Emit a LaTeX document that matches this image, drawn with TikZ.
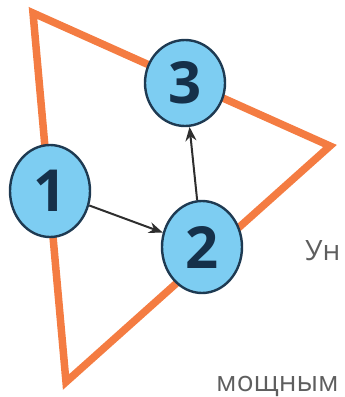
\documentclass[tikz,border=0pt]{standalone}
\usepackage{fontspec}
\usetikzlibrary{shapes.geometric,arrows.meta}
\newfontfamily\lblfont{Open Sans}
\definecolor{triorange}{HTML}{F47C42}
\definecolor{discfill}{HTML}{7DCDF2}
\definecolor{discline}{HTML}{1E3A52}
\definecolor{digitcol}{HTML}{15304A}
\definecolor{arrowcol}{HTML}{2E2E2E}
\definecolor{textgray}{HTML}{5E5E5E}
\tikzset{
  disc/.style={ellipse, draw=discline, line width=2.4pt, fill=discfill,
    minimum width=80pt, minimum height=92pt, inner sep=0pt,
    font=\lblfont\bfseries\fontsize{58}{58}\selectfont, text=digitcol},
  link/.style={draw=arrowcol, line width=2pt, -{Stealth[length=14pt,width=11pt]}},
  frame/.style={draw=triorange, line width=7.5pt, line join=miter},
  caption/.style={font=\lblfont\fontsize{28}{28}\selectfont, text=textgray, inner sep=0pt, anchor=base west}
}
\begin{document}
\begin{tikzpicture}[x=1pt, y=-1pt]
  \useasboundingbox (0,0) rectangle (345,397);
  % triangle frame
  \coordinate (ta) at (33,13);
  \coordinate (tb) at (330,146);
  \coordinate (tc) at (66,382);
  \draw[frame] (ta) -- (tb) -- (tc) -- cycle;
  % numbered discs
  \node[disc] (n1) at (50,191) {1};
  \node[disc] (n2) at (202,247) {2};
  \node[disc, minimum height=86pt] (n3) at (185,83) {3};
  % arrows
  \draw[link] (n1) -- (n2);
  \draw[link] (n2) -- (n3);
  % text fragments
  \node[caption] (t1) at (305,260) {Ун};
  \node[caption] (t2) at (216,391) {мощным};
\end{tikzpicture}
\end{document}
